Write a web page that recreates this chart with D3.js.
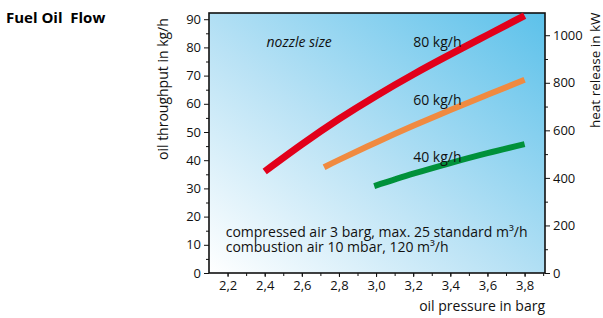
<!DOCTYPE html>
<html>
<head>
<meta charset="utf-8">
<script src="https://cdn.jsdelivr.net/npm/d3@7"></script>
<style>
  body { margin: 0; background: #fff; }
  svg { font-family: "Open Sans", "Noto Sans", sans-serif; }
</style>
</head>
<body>
<script>
// nozzle series: [oil pressure barg, throughput kg/h]
const red80 = [[2.4, 36], [2.6, 45.6], [2.8, 54.6], [3.0, 62.8], [3.2, 70.4], [3.4, 77.5], [3.6, 84.4], [3.8, 91.3]];
const orange60 = [[2.72, 37.5], [2.8, 40.1], [3.0, 46.3], [3.2, 52.2], [3.4, 57.8], [3.6, 63.2], [3.8, 68.5]];
const green40 = [[2.99, 30.8], [3.2, 35.2], [3.4, 39], [3.6, 42.5], [3.8, 45.7]];
const seriesNames = ["80 kg/h", "60 kg/h", "40 kg/h"];
const xTicks = [2.2, 2.4, 2.6, 2.8, 3.0, 3.2, 3.4, 3.6, 3.8];
const yTicks = [0, 10, 20, 30, 40, 50, 60, 70, 80, 90];
const kwTicks = [0, 200, 400, 600, 800, 1000];
const kwPerKg = 11.86;

const width = 603, height = 318;
const margin = {top: 13, right: 58, bottom: 45, left: 209};
const w = width - margin.left - margin.right;
const h = height - margin.top - margin.bottom;

const svg = d3.select("body").append("svg")
  .attr("width", width)
  .attr("height", height);

const grad = svg.append("defs").append("linearGradient")
  .attr("id", "bg")
  .attr("x1", 0).attr("y1", 1).attr("x2", 1).attr("y2", 0);
grad.append("stop").attr("offset", 0).attr("stop-color", "#ffffff");
grad.append("stop").attr("offset", 0.45).attr("stop-color", "#b9e2f5");
grad.append("stop").attr("offset", 1).attr("stop-color", "#5cc1ea");

svg.append("text")
  .attr("x", 6).attr("y", 23)
  .attr("font-size", 15).attr("font-weight", "bold")
  .attr("xml:space", "preserve")
  .text("Fuel Oil  Flow");

const g = svg.append("g")
  .attr("transform", `translate(${margin.left}, ${margin.top})`);

const xscale = d3.scaleLinear().domain([2.1, 3.91]).range([0, w]);
const yscale = d3.scaleLinear().domain([0, 92.2]).range([h, 0]);
const kscale = d3.scaleLinear().domain([0, 92.2 * kwPerKg]).range([h, 0]);

g.append("rect")
  .attr("width", w).attr("height", h)
  .attr("fill", "url(#bg)");

const comma = d => d3.format(".1f")(d).replace(".", ",");

// minor ticks first, then major axes with labels
g.append("g")
  .attr("transform", `translate(0, ${h})`)
  .call(d3.axisBottom(xscale).tickValues(d3.range(2.2, 3.91, 0.1)).tickSize(3).tickFormat(""))
  .call(a => a.select(".domain").remove());
g.append("g")
  .call(d3.axisLeft(yscale).tickValues(d3.range(5, 92, 10)).tickSize(3).tickFormat(""))
  .call(a => a.select(".domain").remove());
g.append("g")
  .attr("transform", `translate(${w}, 0)`)
  .call(d3.axisRight(kscale).tickValues(d3.range(100, 1001, 200)).tickSize(3).tickFormat(""))
  .call(a => a.select(".domain").remove());

g.append("g")
  .attr("class", "axis")
  .attr("transform", `translate(0, ${h})`)
  .call(d3.axisBottom(xscale).tickValues(xTicks).tickSize(4).tickPadding(4).tickFormat(comma))
  .call(a => a.select(".domain").remove());
g.append("g")
  .attr("class", "axis")
  .call(d3.axisLeft(yscale).tickValues(yTicks).tickSize(5).tickPadding(3))
  .call(a => a.select(".domain").remove());
g.append("g")
  .attr("class", "axis")
  .attr("transform", `translate(${w}, 0)`)
  .call(d3.axisRight(kscale).tickValues(kwTicks).tickSize(5).tickPadding(3).tickFormat(d3.format("d")))
  .call(a => a.select(".domain").remove());

g.selectAll(".axis text").attr("font-size", 13).attr("fill", "#111")
  .attr("font-family", "'Open Sans', sans-serif");
g.selectAll(".tick line").attr("stroke", "#111").attr("stroke-width", 1);

g.append("rect")
  .attr("width", w).attr("height", h)
  .attr("fill", "none").attr("stroke", "#111").attr("stroke-width", 1.6);

const line = d3.line().x(d => xscale(d[0])).y(d => yscale(d[1])).curve(d3.curveNatural);
const series = [
  {data: red80, color: "#e2001a", sw: 7},
  {data: orange60, color: "#f08a40", sw: 6},
  {data: green40, color: "#00913a", sw: 6}
];
g.selectAll(".curve")
  .data(series)
  .enter()
  .append("path")
  .attr("class", "curve")
  .attr("d", d => line(d.data))
  .attr("fill", "none")
  .attr("stroke", d => d.color)
  .attr("stroke-width", d => d.sw);

// series labels
const labelPos = [[3.2, 80], [3.2, 59.5], [3.2, 39.3]];
g.selectAll(".lbl")
  .data(seriesNames)
  .enter()
  .append("text")
  .attr("x", (d, i) => xscale(labelPos[i][0]))
  .attr("y", (d, i) => yscale(labelPos[i][1]))
  .attr("font-size", 14).attr("fill", "#111")
  .text(d => d);

g.append("text")
  .attr("x", xscale(2.41)).attr("y", yscale(80))
  .attr("font-size", 14).attr("font-style", "italic").attr("fill", "#111")
  .text("nozzle size");

g.append("text")
  .attr("x", xscale(2.19)).attr("y", yscale(12.7))
  .attr("font-size", 14).attr("fill", "#111")
  .text("compressed air 3 barg, max. 25 standard m³/h");
g.append("text")
  .attr("x", xscale(2.19)).attr("y", yscale(7.3))
  .attr("font-size", 14).attr("fill", "#111")
  .text("combustion air 10 mbar, 120 m³/h");

svg.append("text")
  .attr("transform", `translate(${margin.left + w}, 311)`)
  .attr("text-anchor", "end")
  .attr("font-size", 14).attr("fill", "#111")
  .text("oil pressure in barg");

svg.append("text")
  .attr("transform", "translate(168, 160) rotate(-90)")
  .attr("font-size", 14).attr("fill", "#111")
  .text("oil throughput in kg/h");

svg.append("text")
  .attr("transform", "translate(600, 128) rotate(-90)")
  .attr("font-size", 13.5).attr("fill", "#111")
  .text("heat release in kW");
</script>
</body>
</html>
